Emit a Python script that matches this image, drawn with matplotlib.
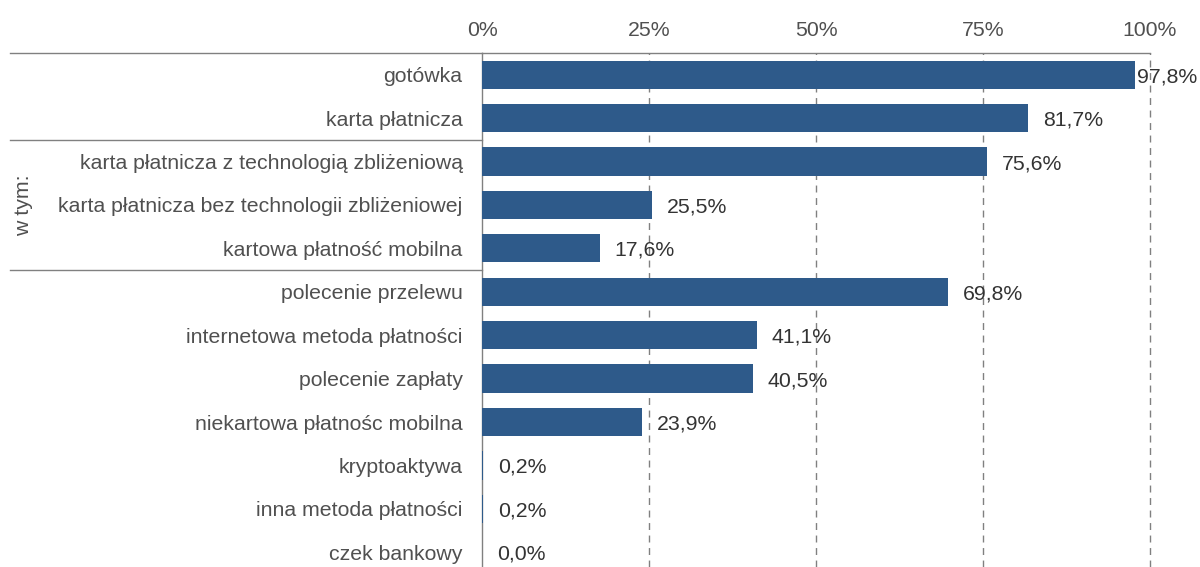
import matplotlib
matplotlib.use("Agg")
import matplotlib.pyplot as plt

plt.rcParams['font.family'] = ['Liberation Sans', 'DejaVu Sans']

categories = [
    "gotówka",
    "karta płatnicza",
    "karta płatnicza z technologią zbliżeniową",
    "karta płatnicza bez technologii zbliżeniowej",
    "kartowa płatność mobilna",
    "polecenie przelewu",
    "internetowa metoda płatności",
    "polecenie zapłaty",
    "niekartowa płatnośc mobilna",
    "kryptoaktywa",
    "inna metoda płatności",
    "czek bankowy",
]
values = [97.8, 81.7, 75.6, 25.5, 17.6, 69.8, 41.1, 40.5, 23.9, 0.2, 0.2, 0.0]
xticks = [0, 25, 50, 75, 100]
xtick_labels = ["0%", "25%", "50%", "75%", "100%"]
group_label = "w tym:"

bar_color = "#2E5A8A"
text_color = "#505050"
line_color = "#808080"
fs = 15.3

fig = plt.figure(figsize=(12, 5.67), dpi=100)
ax = fig.add_axes([482/1200, 0, 668/1200, 1 - 53/567])

y = list(range(len(categories)))
ax.barh(y, values, height=0.65, color=bar_color, zorder=3)

ax.set_xlim(0, 100)
ax.set_ylim(11.34, -0.5)

ax.set_xticks(xticks)
ax.set_xticklabels(xtick_labels)
ax.xaxis.tick_top()
ax.tick_params(axis='x', length=0, pad=9, labelsize=fs, labelcolor=text_color)
ax.set_yticks(y)
ax.set_yticklabels(categories, va='center_baseline')
ax.tick_params(axis='y', length=0, pad=14, labelsize=fs, labelcolor=text_color)

for xv in xticks[1:]:
    ax.axvline(xv, color=line_color, linestyle=(0, (5, 4)), linewidth=1, zorder=1, clip_on=False)

for s in ['right', 'bottom']:
    ax.spines[s].set_visible(False)
ax.spines['left'].set_color(line_color)
ax.spines['top'].set_color(line_color)
ax.spines['left'].set_linewidth(1)
ax.spines['top'].set_linewidth(1)

for i, v in enumerate(values):
    off = 2 if v > 95 else 15
    ax.annotate(f"{v:.1f}%".replace(".", ","), xy=(v, i), xytext=(off, 0),
                textcoords='offset pixels', va='center_baseline', ha='left',
                fontsize=fs, color="#333333", zorder=4)

tr = ax.get_yaxis_transform()
x0 = (10 - 482) / 668
for yy in [-0.5, 1.5, 4.5]:
    ax.plot([x0, 0], [yy, yy], transform=tr, color=line_color, linewidth=1, clip_on=False)

ax.text((24 - 482) / 668, 3, group_label, transform=tr, rotation=90,
        va='center', ha='center', fontsize=fs, color=text_color)

fig.savefig("out.png", dpi=100)
